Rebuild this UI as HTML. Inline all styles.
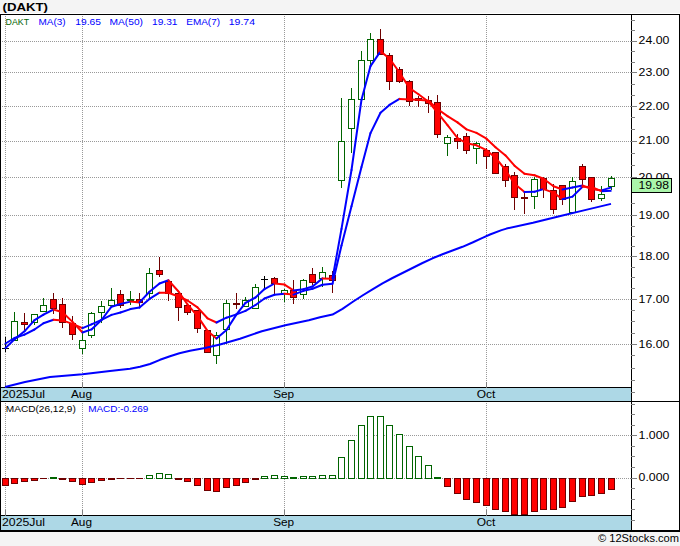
<!DOCTYPE html>
<html><head><meta charset="utf-8"><title>(DAKT)</title>
<style>html,body{margin:0;padding:0;background:#f4f4f4;}body{width:680px;height:546px;overflow:hidden;font-family:"Liberation Sans", sans-serif;}svg{display:block;}text{font-family:"Liberation Sans", sans-serif;}</style>
</head><body>
<svg width="680" height="546" viewBox="0 0 680 546">
<rect x="0" y="0" width="680" height="546" fill="#f4f4f4"/>
<rect x="0" y="13" width="680" height="1" fill="#fff" shape-rendering="crispEdges"/>
<text x="2.5" y="11" font-size="11.3" font-weight="bold" fill="#000" textLength="45.5" lengthAdjust="spacingAndGlyphs">(DAKT)</text>
<g shape-rendering="crispEdges">
<rect x="0" y="14" width="680" height="518" fill="#000"/>
<rect x="1" y="15" width="630" height="372" fill="#fff"/>
<rect x="632" y="15" width="47" height="386" fill="#fff"/>
<rect x="1" y="388" width="630" height="13" fill="#add8e6"/>
<rect x="1" y="402" width="630" height="113" fill="#fff"/>
<rect x="632" y="402" width="47" height="128" fill="#fff"/>
<rect x="1" y="516" width="630" height="14" fill="#add8e6"/>
<line x1="2" x2="631" y1="344.5" y2="344.5" stroke="#999" stroke-width="1" stroke-dasharray="1,1"/>
<line x1="2" x2="631" y1="299.5" y2="299.5" stroke="#999" stroke-width="1" stroke-dasharray="1,1"/>
<line x1="2" x2="631" y1="256.5" y2="256.5" stroke="#999" stroke-width="1" stroke-dasharray="1,1"/>
<line x1="2" x2="631" y1="215.5" y2="215.5" stroke="#999" stroke-width="1" stroke-dasharray="1,1"/>
<line x1="2" x2="631" y1="177.5" y2="177.5" stroke="#999" stroke-width="1" stroke-dasharray="1,1"/>
<line x1="2" x2="631" y1="141.5" y2="141.5" stroke="#999" stroke-width="1" stroke-dasharray="1,1"/>
<line x1="2" x2="631" y1="106.5" y2="106.5" stroke="#999" stroke-width="1" stroke-dasharray="1,1"/>
<line x1="2" x2="631" y1="72.5" y2="72.5" stroke="#999" stroke-width="1" stroke-dasharray="1,1"/>
<line x1="2" x2="631" y1="41.5" y2="41.5" stroke="#999" stroke-width="1" stroke-dasharray="1,1"/>
<line x1="5.5" x2="5.5" y1="16" y2="382" stroke="#999" stroke-width="1" stroke-dasharray="1,1"/>
<line x1="5.5" x2="5.5" y1="382" y2="388" stroke="#808080" stroke-width="1"/>
<line x1="5.5" x2="5.5" y1="403" y2="510" stroke="#999" stroke-width="1" stroke-dasharray="1,1"/>
<line x1="5.5" x2="5.5" y1="510" y2="516" stroke="#808080" stroke-width="1"/>
<line x1="82.5" x2="82.5" y1="16" y2="382" stroke="#999" stroke-width="1" stroke-dasharray="1,1"/>
<line x1="82.5" x2="82.5" y1="382" y2="388" stroke="#808080" stroke-width="1"/>
<line x1="82.5" x2="82.5" y1="403" y2="510" stroke="#999" stroke-width="1" stroke-dasharray="1,1"/>
<line x1="82.5" x2="82.5" y1="510" y2="516" stroke="#808080" stroke-width="1"/>
<line x1="284.5" x2="284.5" y1="16" y2="382" stroke="#999" stroke-width="1" stroke-dasharray="1,1"/>
<line x1="284.5" x2="284.5" y1="382" y2="388" stroke="#808080" stroke-width="1"/>
<line x1="284.5" x2="284.5" y1="403" y2="510" stroke="#999" stroke-width="1" stroke-dasharray="1,1"/>
<line x1="284.5" x2="284.5" y1="510" y2="516" stroke="#808080" stroke-width="1"/>
<line x1="486.5" x2="486.5" y1="16" y2="382" stroke="#999" stroke-width="1" stroke-dasharray="1,1"/>
<line x1="486.5" x2="486.5" y1="382" y2="388" stroke="#808080" stroke-width="1"/>
<line x1="486.5" x2="486.5" y1="403" y2="510" stroke="#999" stroke-width="1" stroke-dasharray="1,1"/>
<line x1="486.5" x2="486.5" y1="510" y2="516" stroke="#808080" stroke-width="1"/>
<line x1="2" x2="631" y1="435.5" y2="435.5" stroke="#999" stroke-width="1" stroke-dasharray="1,1"/>
<line x1="2" x2="631" y1="478.5" y2="478.5" stroke="#999" stroke-width="1" stroke-dasharray="1,1"/>
<line x1="631" x2="635" y1="20.5" y2="20.5" stroke="#808080" stroke-width="1"/>
<line x1="631" x2="635" y1="30.5" y2="30.5" stroke="#808080" stroke-width="1"/>
<line x1="631" x2="635" y1="51.5" y2="51.5" stroke="#808080" stroke-width="1"/>
<line x1="631" x2="635" y1="62.5" y2="62.5" stroke="#808080" stroke-width="1"/>
<line x1="631" x2="635" y1="84.5" y2="84.5" stroke="#808080" stroke-width="1"/>
<line x1="631" x2="635" y1="95.5" y2="95.5" stroke="#808080" stroke-width="1"/>
<line x1="631" x2="635" y1="117.5" y2="117.5" stroke="#808080" stroke-width="1"/>
<line x1="631" x2="635" y1="129.5" y2="129.5" stroke="#808080" stroke-width="1"/>
<line x1="631" x2="635" y1="153.5" y2="153.5" stroke="#808080" stroke-width="1"/>
<line x1="631" x2="635" y1="165.5" y2="165.5" stroke="#808080" stroke-width="1"/>
<line x1="631" x2="635" y1="190.5" y2="190.5" stroke="#808080" stroke-width="1"/>
<line x1="631" x2="635" y1="203.5" y2="203.5" stroke="#808080" stroke-width="1"/>
<line x1="631" x2="635" y1="226.5" y2="226.5" stroke="#808080" stroke-width="1"/>
<line x1="631" x2="635" y1="236.5" y2="236.5" stroke="#808080" stroke-width="1"/>
<line x1="631" x2="635" y1="246.5" y2="246.5" stroke="#808080" stroke-width="1"/>
<line x1="631" x2="635" y1="267.5" y2="267.5" stroke="#808080" stroke-width="1"/>
<line x1="631" x2="635" y1="277.5" y2="277.5" stroke="#808080" stroke-width="1"/>
<line x1="631" x2="635" y1="288.5" y2="288.5" stroke="#808080" stroke-width="1"/>
<line x1="631" x2="635" y1="310.5" y2="310.5" stroke="#808080" stroke-width="1"/>
<line x1="631" x2="635" y1="321.5" y2="321.5" stroke="#808080" stroke-width="1"/>
<line x1="631" x2="635" y1="333.5" y2="333.5" stroke="#808080" stroke-width="1"/>
<line x1="631" x2="635" y1="355.5" y2="355.5" stroke="#808080" stroke-width="1"/>
<line x1="631" x2="635" y1="368.5" y2="368.5" stroke="#808080" stroke-width="1"/>
<line x1="631" x2="635" y1="380.5" y2="380.5" stroke="#808080" stroke-width="1"/>
<line x1="631" x2="635" y1="392.5" y2="392.5" stroke="#808080" stroke-width="1"/>
<line x1="630" x2="637" y1="41.5" y2="41.5" stroke="#808080" stroke-width="1"/>
<line x1="630" x2="637" y1="72.5" y2="72.5" stroke="#808080" stroke-width="1"/>
<line x1="630" x2="637" y1="106.5" y2="106.5" stroke="#808080" stroke-width="1"/>
<line x1="630" x2="637" y1="141.5" y2="141.5" stroke="#808080" stroke-width="1"/>
<line x1="630" x2="637" y1="177.5" y2="177.5" stroke="#808080" stroke-width="1"/>
<line x1="630" x2="637" y1="215.5" y2="215.5" stroke="#808080" stroke-width="1"/>
<line x1="630" x2="637" y1="256.5" y2="256.5" stroke="#808080" stroke-width="1"/>
<line x1="630" x2="637" y1="299.5" y2="299.5" stroke="#808080" stroke-width="1"/>
<line x1="630" x2="637" y1="344.5" y2="344.5" stroke="#808080" stroke-width="1"/>
<line x1="631" x2="635" y1="404.5" y2="404.5" stroke="#808080" stroke-width="1"/>
<line x1="631" x2="635" y1="414.5" y2="414.5" stroke="#808080" stroke-width="1"/>
<line x1="631" x2="635" y1="425.5" y2="425.5" stroke="#808080" stroke-width="1"/>
<line x1="630" x2="637" y1="435.5" y2="435.5" stroke="#808080" stroke-width="1"/>
<line x1="631" x2="635" y1="446.5" y2="446.5" stroke="#808080" stroke-width="1"/>
<line x1="631" x2="635" y1="456.5" y2="456.5" stroke="#808080" stroke-width="1"/>
<line x1="631" x2="635" y1="467.5" y2="467.5" stroke="#808080" stroke-width="1"/>
<line x1="630" x2="637" y1="478.5" y2="478.5" stroke="#808080" stroke-width="1"/>
<line x1="631" x2="635" y1="488.5" y2="488.5" stroke="#808080" stroke-width="1"/>
<line x1="631" x2="635" y1="499.5" y2="499.5" stroke="#808080" stroke-width="1"/>
<line x1="631" x2="635" y1="509.5" y2="509.5" stroke="#808080" stroke-width="1"/>
<line x1="631" x2="635" y1="520.5" y2="520.5" stroke="#808080" stroke-width="1"/>
</g>
<text x="638.6" y="348.0" font-size="11.2" fill="#000" textLength="30.8" lengthAdjust="spacingAndGlyphs">16.00</text>
<text x="638.6" y="303.0" font-size="11.2" fill="#000" textLength="30.8" lengthAdjust="spacingAndGlyphs">17.00</text>
<text x="638.6" y="260.0" font-size="11.2" fill="#000" textLength="30.8" lengthAdjust="spacingAndGlyphs">18.00</text>
<text x="638.6" y="219.0" font-size="11.2" fill="#000" textLength="30.8" lengthAdjust="spacingAndGlyphs">19.00</text>
<text x="638.6" y="181.0" font-size="11.2" fill="#000" textLength="30.8" lengthAdjust="spacingAndGlyphs">20.00</text>
<text x="638.6" y="144.0" font-size="11.2" fill="#000" textLength="30.8" lengthAdjust="spacingAndGlyphs">21.00</text>
<text x="638.6" y="110.0" font-size="11.2" fill="#000" textLength="30.8" lengthAdjust="spacingAndGlyphs">22.00</text>
<text x="638.6" y="76.0" font-size="11.2" fill="#000" textLength="30.8" lengthAdjust="spacingAndGlyphs">23.00</text>
<text x="638.6" y="44.0" font-size="11.2" fill="#000" textLength="30.8" lengthAdjust="spacingAndGlyphs">24.00</text>
<text x="638.6" y="439" font-size="11.2" fill="#000" textLength="30.8" lengthAdjust="spacingAndGlyphs">1.000</text>
<text x="638.6" y="481" font-size="11.2" fill="#000" textLength="30.8" lengthAdjust="spacingAndGlyphs">0.000</text>
<text x="2" y="397.7" font-size="11.2" fill="#000" textLength="43" lengthAdjust="spacingAndGlyphs">2025Jul</text>
<text x="71" y="397.7" font-size="11.2" fill="#000" textLength="21" lengthAdjust="spacingAndGlyphs">Aug</text>
<text x="273.2" y="397.7" font-size="11.2" fill="#000" textLength="21" lengthAdjust="spacingAndGlyphs">Sep</text>
<text x="476.7" y="397.7" font-size="11.2" fill="#000" textLength="18.6" lengthAdjust="spacingAndGlyphs">Oct</text>
<text x="2" y="525.7" font-size="11.2" fill="#000" textLength="43" lengthAdjust="spacingAndGlyphs">2025Jul</text>
<text x="71" y="525.7" font-size="11.2" fill="#000" textLength="21" lengthAdjust="spacingAndGlyphs">Aug</text>
<text x="273.2" y="525.7" font-size="11.2" fill="#000" textLength="21" lengthAdjust="spacingAndGlyphs">Sep</text>
<text x="476.7" y="525.7" font-size="11.2" fill="#000" textLength="18.6" lengthAdjust="spacingAndGlyphs">Oct</text>
<text x="5.6" y="25.0" font-size="9.7" fill="#006400" textLength="23.4" lengthAdjust="spacingAndGlyphs">DAKT</text>
<text x="38.5" y="25.0" font-size="9.7" fill="#0000ff" textLength="27.1" lengthAdjust="spacingAndGlyphs">MA(3)</text>
<text x="75.3" y="25.0" font-size="9.7" fill="#0000ff" textLength="25.7" lengthAdjust="spacingAndGlyphs">19.65</text>
<text x="109.5" y="25.0" font-size="9.7" fill="#0000ff" textLength="33.5" lengthAdjust="spacingAndGlyphs">MA(50)</text>
<text x="152.0" y="25.0" font-size="9.7" fill="#0000ff" textLength="25.5" lengthAdjust="spacingAndGlyphs">19.31</text>
<text x="186.3" y="25.0" font-size="9.7" fill="#0000ff" textLength="33.7" lengthAdjust="spacingAndGlyphs">EMA(7)</text>
<text x="228.8" y="25.0" font-size="9.7" fill="#0000ff" textLength="26.2" lengthAdjust="spacingAndGlyphs">19.74</text>
<text x="5.8" y="412.0" font-size="9.7" fill="#000" textLength="70.0" lengthAdjust="spacingAndGlyphs">MACD(26,12,9)</text>
<text x="88.2" y="412.0" font-size="9.7" fill="#0000ff" textLength="60.1" lengthAdjust="spacingAndGlyphs">MACD:-0.269</text>
<g shape-rendering="crispEdges">
<line x1="5.5" x2="5.5" y1="337" y2="352" stroke="#000" stroke-width="1"/>
<line x1="2" x2="9" y1="348.5" y2="348.5" stroke="#000" stroke-width="1"/>
<line x1="14.5" x2="14.5" y1="312" y2="341" stroke="#006400" stroke-width="1"/>
<rect x="11.5" y="321.5" width="6" height="19" fill="#fff" stroke="#006400" stroke-width="1"/>
<line x1="24.5" x2="24.5" y1="313" y2="330" stroke="#6e0000" stroke-width="1"/>
<rect x="21.5" y="322.5" width="6" height="2" fill="#ff0000" stroke="#6e0000" stroke-width="1"/>
<line x1="34.5" x2="34.5" y1="314" y2="325" stroke="#006400" stroke-width="1"/>
<rect x="31.5" y="314.5" width="6" height="8" fill="#fff" stroke="#006400" stroke-width="1"/>
<line x1="43.5" x2="43.5" y1="298" y2="312" stroke="#006400" stroke-width="1"/>
<rect x="40.5" y="305.5" width="6" height="6" fill="#fff" stroke="#006400" stroke-width="1"/>
<line x1="53.5" x2="53.5" y1="293" y2="314" stroke="#6e0000" stroke-width="1"/>
<rect x="50.5" y="299.5" width="6" height="9" fill="#ff0000" stroke="#6e0000" stroke-width="1"/>
<line x1="62.5" x2="62.5" y1="298" y2="328" stroke="#6e0000" stroke-width="1"/>
<rect x="59.5" y="304.5" width="6" height="18" fill="#ff0000" stroke="#6e0000" stroke-width="1"/>
<line x1="72.5" x2="72.5" y1="316" y2="340" stroke="#6e0000" stroke-width="1"/>
<rect x="69.5" y="323.5" width="6" height="11" fill="#ff0000" stroke="#6e0000" stroke-width="1"/>
<line x1="82.5" x2="82.5" y1="333" y2="354" stroke="#006400" stroke-width="1"/>
<rect x="79.5" y="340.5" width="6" height="8" fill="#fff" stroke="#006400" stroke-width="1"/>
<line x1="91.5" x2="91.5" y1="312" y2="338" stroke="#006400" stroke-width="1"/>
<rect x="88.5" y="313.5" width="6" height="22" fill="#fff" stroke="#006400" stroke-width="1"/>
<line x1="101.5" x2="101.5" y1="301" y2="323" stroke="#006400" stroke-width="1"/>
<rect x="98.5" y="306.5" width="6" height="6" fill="#fff" stroke="#006400" stroke-width="1"/>
<line x1="111.5" x2="111.5" y1="288" y2="306" stroke="#006400" stroke-width="1"/>
<rect x="108.5" y="300.5" width="6" height="5" fill="#fff" stroke="#006400" stroke-width="1"/>
<line x1="120.5" x2="120.5" y1="290" y2="308" stroke="#6e0000" stroke-width="1"/>
<rect x="117.5" y="294.5" width="6" height="11" fill="#ff0000" stroke="#6e0000" stroke-width="1"/>
<line x1="130.5" x2="130.5" y1="291" y2="305" stroke="#006400" stroke-width="1"/>
<rect x="127" y="299" width="7" height="2" fill="#006400"/>
<line x1="139.5" x2="139.5" y1="293" y2="307" stroke="#6e0000" stroke-width="1"/>
<rect x="136.5" y="299.5" width="6" height="3" fill="#ff0000" stroke="#6e0000" stroke-width="1"/>
<line x1="149.5" x2="149.5" y1="268" y2="298" stroke="#006400" stroke-width="1"/>
<rect x="146.5" y="273.5" width="6" height="20" fill="#fff" stroke="#006400" stroke-width="1"/>
<line x1="159.5" x2="159.5" y1="257" y2="277" stroke="#6e0000" stroke-width="1"/>
<rect x="156.5" y="270.5" width="6" height="4" fill="#ff0000" stroke="#6e0000" stroke-width="1"/>
<line x1="168.5" x2="168.5" y1="281" y2="301" stroke="#6e0000" stroke-width="1"/>
<rect x="165.5" y="281.5" width="6" height="12" fill="#ff0000" stroke="#6e0000" stroke-width="1"/>
<line x1="178.5" x2="178.5" y1="293" y2="321" stroke="#6e0000" stroke-width="1"/>
<rect x="175.5" y="293.5" width="6" height="14" fill="#ff0000" stroke="#6e0000" stroke-width="1"/>
<line x1="187.5" x2="187.5" y1="305" y2="315" stroke="#6e0000" stroke-width="1"/>
<rect x="184.5" y="305.5" width="6" height="7" fill="#ff0000" stroke="#6e0000" stroke-width="1"/>
<line x1="197.5" x2="197.5" y1="310" y2="333" stroke="#6e0000" stroke-width="1"/>
<rect x="194.5" y="310.5" width="6" height="18" fill="#ff0000" stroke="#6e0000" stroke-width="1"/>
<line x1="207.5" x2="207.5" y1="330" y2="353" stroke="#6e0000" stroke-width="1"/>
<rect x="204.5" y="330.5" width="6" height="22" fill="#ff0000" stroke="#6e0000" stroke-width="1"/>
<line x1="216.5" x2="216.5" y1="332" y2="364" stroke="#006400" stroke-width="1"/>
<rect x="213.5" y="335.5" width="6" height="20" fill="#fff" stroke="#006400" stroke-width="1"/>
<line x1="226.5" x2="226.5" y1="300" y2="344" stroke="#006400" stroke-width="1"/>
<rect x="223.5" y="303.5" width="6" height="26" fill="#fff" stroke="#006400" stroke-width="1"/>
<line x1="236.5" x2="236.5" y1="293" y2="309" stroke="#6e0000" stroke-width="1"/>
<rect x="233" y="303" width="7" height="2" fill="#6e0000"/>
<line x1="245.5" x2="245.5" y1="297" y2="307" stroke="#006400" stroke-width="1"/>
<rect x="242.5" y="300.5" width="6" height="6" fill="#fff" stroke="#006400" stroke-width="1"/>
<line x1="255.5" x2="255.5" y1="284" y2="309" stroke="#006400" stroke-width="1"/>
<rect x="252.5" y="287.5" width="6" height="21" fill="#fff" stroke="#006400" stroke-width="1"/>
<line x1="264.5" x2="264.5" y1="276" y2="288" stroke="#000" stroke-width="1"/>
<line x1="261" x2="268" y1="279.5" y2="279.5" stroke="#000" stroke-width="1"/>
<line x1="274.5" x2="274.5" y1="277" y2="294" stroke="#6e0000" stroke-width="1"/>
<rect x="271.5" y="278.5" width="6" height="5" fill="#ff0000" stroke="#6e0000" stroke-width="1"/>
<line x1="284.5" x2="284.5" y1="289" y2="302" stroke="#006400" stroke-width="1"/>
<rect x="281.5" y="290.5" width="6" height="3" fill="#fff" stroke="#006400" stroke-width="1"/>
<line x1="293.5" x2="293.5" y1="280" y2="304" stroke="#6e0000" stroke-width="1"/>
<rect x="290.5" y="290.5" width="6" height="7" fill="#ff0000" stroke="#6e0000" stroke-width="1"/>
<line x1="303.5" x2="303.5" y1="279" y2="299" stroke="#006400" stroke-width="1"/>
<rect x="300.5" y="280.5" width="6" height="14" fill="#fff" stroke="#006400" stroke-width="1"/>
<line x1="312.5" x2="312.5" y1="268" y2="285" stroke="#6e0000" stroke-width="1"/>
<rect x="309.5" y="274.5" width="6" height="8" fill="#ff0000" stroke="#6e0000" stroke-width="1"/>
<line x1="322.5" x2="322.5" y1="267" y2="287" stroke="#006400" stroke-width="1"/>
<rect x="319.5" y="272.5" width="6" height="6" fill="#fff" stroke="#006400" stroke-width="1"/>
<line x1="332.5" x2="332.5" y1="271" y2="293" stroke="#6e0000" stroke-width="1"/>
<rect x="329.5" y="275.5" width="6" height="5" fill="#ff0000" stroke="#6e0000" stroke-width="1"/>
<line x1="341.5" x2="341.5" y1="98" y2="188" stroke="#006400" stroke-width="1"/>
<rect x="338.5" y="141.5" width="6" height="39" fill="#fff" stroke="#006400" stroke-width="1"/>
<line x1="351.5" x2="351.5" y1="88" y2="153" stroke="#006400" stroke-width="1"/>
<rect x="348.5" y="99.5" width="6" height="29" fill="#fff" stroke="#006400" stroke-width="1"/>
<line x1="361.5" x2="361.5" y1="51" y2="100" stroke="#006400" stroke-width="1"/>
<rect x="358.5" y="60.5" width="6" height="39" fill="#fff" stroke="#006400" stroke-width="1"/>
<line x1="370.5" x2="370.5" y1="33" y2="65" stroke="#006400" stroke-width="1"/>
<rect x="367.5" y="39.5" width="6" height="21" fill="#fff" stroke="#006400" stroke-width="1"/>
<line x1="380.5" x2="380.5" y1="29" y2="55" stroke="#6e0000" stroke-width="1"/>
<rect x="377.5" y="39.5" width="6" height="15" fill="#ff0000" stroke="#6e0000" stroke-width="1"/>
<line x1="389.5" x2="389.5" y1="53" y2="90" stroke="#6e0000" stroke-width="1"/>
<rect x="386.5" y="55.5" width="6" height="26" fill="#ff0000" stroke="#6e0000" stroke-width="1"/>
<line x1="399.5" x2="399.5" y1="67" y2="83" stroke="#6e0000" stroke-width="1"/>
<rect x="396.5" y="69.5" width="6" height="12" fill="#ff0000" stroke="#6e0000" stroke-width="1"/>
<line x1="409.5" x2="409.5" y1="80" y2="106" stroke="#6e0000" stroke-width="1"/>
<rect x="406.5" y="81.5" width="6" height="20" fill="#ff0000" stroke="#6e0000" stroke-width="1"/>
<line x1="418.5" x2="418.5" y1="96" y2="107" stroke="#6e0000" stroke-width="1"/>
<rect x="415.5" y="98.5" width="6" height="2" fill="#ff0000" stroke="#6e0000" stroke-width="1"/>
<line x1="428.5" x2="428.5" y1="96" y2="113" stroke="#6e0000" stroke-width="1"/>
<rect x="425.5" y="100.5" width="6" height="3" fill="#ff0000" stroke="#6e0000" stroke-width="1"/>
<line x1="437.5" x2="437.5" y1="95" y2="138" stroke="#6e0000" stroke-width="1"/>
<rect x="434.5" y="102.5" width="6" height="32" fill="#ff0000" stroke="#6e0000" stroke-width="1"/>
<line x1="447.5" x2="447.5" y1="135" y2="156" stroke="#006400" stroke-width="1"/>
<rect x="444.5" y="137.5" width="6" height="6" fill="#fff" stroke="#006400" stroke-width="1"/>
<line x1="457.5" x2="457.5" y1="134" y2="149" stroke="#6e0000" stroke-width="1"/>
<rect x="454.5" y="138.5" width="6" height="3" fill="#ff0000" stroke="#6e0000" stroke-width="1"/>
<line x1="466.5" x2="466.5" y1="133" y2="154" stroke="#6e0000" stroke-width="1"/>
<rect x="463.5" y="136.5" width="6" height="14" fill="#ff0000" stroke="#6e0000" stroke-width="1"/>
<line x1="476.5" x2="476.5" y1="142" y2="164" stroke="#006400" stroke-width="1"/>
<rect x="473.5" y="143.5" width="6" height="5" fill="#fff" stroke="#006400" stroke-width="1"/>
<line x1="486.5" x2="486.5" y1="148" y2="169" stroke="#6e0000" stroke-width="1"/>
<rect x="483.5" y="150.5" width="6" height="6" fill="#ff0000" stroke="#6e0000" stroke-width="1"/>
<line x1="495.5" x2="495.5" y1="152" y2="174" stroke="#6e0000" stroke-width="1"/>
<rect x="492.5" y="152.5" width="6" height="21" fill="#ff0000" stroke="#6e0000" stroke-width="1"/>
<line x1="505.5" x2="505.5" y1="164" y2="187" stroke="#6e0000" stroke-width="1"/>
<rect x="502.5" y="166.5" width="6" height="14" fill="#ff0000" stroke="#6e0000" stroke-width="1"/>
<line x1="514.5" x2="514.5" y1="172" y2="210" stroke="#6e0000" stroke-width="1"/>
<rect x="511.5" y="175.5" width="6" height="22" fill="#ff0000" stroke="#6e0000" stroke-width="1"/>
<line x1="524.5" x2="524.5" y1="192" y2="214" stroke="#6e0000" stroke-width="1"/>
<rect x="521" y="197" width="7" height="2" fill="#6e0000"/>
<line x1="534.5" x2="534.5" y1="177" y2="209" stroke="#006400" stroke-width="1"/>
<rect x="531.5" y="179.5" width="6" height="17" fill="#fff" stroke="#006400" stroke-width="1"/>
<line x1="543.5" x2="543.5" y1="177" y2="198" stroke="#6e0000" stroke-width="1"/>
<rect x="540.5" y="178.5" width="6" height="11" fill="#ff0000" stroke="#6e0000" stroke-width="1"/>
<line x1="553.5" x2="553.5" y1="184" y2="214" stroke="#6e0000" stroke-width="1"/>
<rect x="550.5" y="190.5" width="6" height="19" fill="#ff0000" stroke="#6e0000" stroke-width="1"/>
<line x1="562.5" x2="562.5" y1="185" y2="205" stroke="#6e0000" stroke-width="1"/>
<rect x="559.5" y="185.5" width="6" height="14" fill="#ff0000" stroke="#6e0000" stroke-width="1"/>
<line x1="572.5" x2="572.5" y1="177" y2="213" stroke="#006400" stroke-width="1"/>
<rect x="569.5" y="181.5" width="6" height="31" fill="#fff" stroke="#006400" stroke-width="1"/>
<line x1="582.5" x2="582.5" y1="164" y2="185" stroke="#6e0000" stroke-width="1"/>
<rect x="579.5" y="166.5" width="6" height="13" fill="#ff0000" stroke="#6e0000" stroke-width="1"/>
<line x1="591.5" x2="591.5" y1="177" y2="202" stroke="#6e0000" stroke-width="1"/>
<rect x="588.5" y="177.5" width="6" height="22" fill="#ff0000" stroke="#6e0000" stroke-width="1"/>
<line x1="601.5" x2="601.5" y1="186" y2="201" stroke="#006400" stroke-width="1"/>
<rect x="598.5" y="194.5" width="6" height="4" fill="#fff" stroke="#006400" stroke-width="1"/>
<line x1="611.5" x2="611.5" y1="176" y2="190" stroke="#006400" stroke-width="1"/>
<rect x="608.5" y="178.5" width="6" height="8" fill="#fff" stroke="#006400" stroke-width="1"/>
</g>
<g shape-rendering="crispEdges">
<rect x="2.5" y="478.5" width="6" height="7" fill="#ff0000" stroke="#6e0000" stroke-width="1"/>
<rect x="11.5" y="478.5" width="6" height="5" fill="#ff0000" stroke="#6e0000" stroke-width="1"/>
<rect x="21.5" y="478.5" width="6" height="3" fill="#ff0000" stroke="#6e0000" stroke-width="1"/>
<rect x="31.5" y="478.5" width="6" height="2" fill="#ff0000" stroke="#6e0000" stroke-width="1"/>
<rect x="40" y="478" width="7" height="1" fill="#6e0000"/>
<rect x="50" y="477" width="7" height="2" fill="#006400"/>
<rect x="59" y="478" width="7" height="2" fill="#6e0000"/>
<rect x="69.5" y="478.5" width="6" height="3" fill="#ff0000" stroke="#6e0000" stroke-width="1"/>
<rect x="79.5" y="478.5" width="6" height="6" fill="#ff0000" stroke="#6e0000" stroke-width="1"/>
<rect x="88.5" y="478.5" width="6" height="4" fill="#ff0000" stroke="#6e0000" stroke-width="1"/>
<rect x="98.5" y="478.5" width="6" height="2" fill="#ff0000" stroke="#6e0000" stroke-width="1"/>
<rect x="108" y="478" width="7" height="2" fill="#6e0000"/>
<rect x="117" y="478" width="7" height="1" fill="#6e0000"/>
<rect x="127" y="478" width="7" height="1" fill="#6e0000"/>
<rect x="136" y="478" width="7" height="1" fill="#6e0000"/>
<rect x="146.5" y="475.5" width="6" height="3" fill="#fff" stroke="#006400" stroke-width="1"/>
<rect x="156.5" y="473.5" width="6" height="5" fill="#fff" stroke="#006400" stroke-width="1"/>
<rect x="165.5" y="474.5" width="6" height="4" fill="#fff" stroke="#006400" stroke-width="1"/>
<rect x="175" y="478" width="7" height="2" fill="#6e0000"/>
<rect x="184.5" y="478.5" width="6" height="3" fill="#ff0000" stroke="#6e0000" stroke-width="1"/>
<rect x="194.5" y="478.5" width="6" height="7" fill="#ff0000" stroke="#6e0000" stroke-width="1"/>
<rect x="204.5" y="478.5" width="6" height="12" fill="#ff0000" stroke="#6e0000" stroke-width="1"/>
<rect x="213.5" y="478.5" width="6" height="13" fill="#ff0000" stroke="#6e0000" stroke-width="1"/>
<rect x="223.5" y="478.5" width="6" height="9" fill="#ff0000" stroke="#6e0000" stroke-width="1"/>
<rect x="233.5" y="478.5" width="6" height="7" fill="#ff0000" stroke="#6e0000" stroke-width="1"/>
<rect x="242.5" y="478.5" width="6" height="4" fill="#ff0000" stroke="#6e0000" stroke-width="1"/>
<rect x="252" y="478" width="7" height="2" fill="#6e0000"/>
<rect x="261.5" y="476.5" width="6" height="2" fill="#fff" stroke="#006400" stroke-width="1"/>
<rect x="271.5" y="475.5" width="6" height="3" fill="#fff" stroke="#006400" stroke-width="1"/>
<rect x="281.5" y="476.5" width="6" height="2" fill="#fff" stroke="#006400" stroke-width="1"/>
<rect x="290" y="477" width="7" height="2" fill="#006400"/>
<rect x="300.5" y="476.5" width="6" height="2" fill="#fff" stroke="#006400" stroke-width="1"/>
<rect x="309.5" y="476.5" width="6" height="2" fill="#fff" stroke="#006400" stroke-width="1"/>
<rect x="319.5" y="475.5" width="6" height="3" fill="#fff" stroke="#006400" stroke-width="1"/>
<rect x="329.5" y="475.5" width="6" height="3" fill="#fff" stroke="#006400" stroke-width="1"/>
<rect x="338.5" y="457.5" width="6" height="21" fill="#fff" stroke="#006400" stroke-width="1"/>
<rect x="348.5" y="440.5" width="6" height="38" fill="#fff" stroke="#006400" stroke-width="1"/>
<rect x="358.5" y="425.5" width="6" height="53" fill="#fff" stroke="#006400" stroke-width="1"/>
<rect x="367.5" y="416.5" width="6" height="62" fill="#fff" stroke="#006400" stroke-width="1"/>
<rect x="377.5" y="416.5" width="6" height="62" fill="#fff" stroke="#006400" stroke-width="1"/>
<rect x="386.5" y="425.5" width="6" height="53" fill="#fff" stroke="#006400" stroke-width="1"/>
<rect x="396.5" y="434.5" width="6" height="44" fill="#fff" stroke="#006400" stroke-width="1"/>
<rect x="406.5" y="446.5" width="6" height="32" fill="#fff" stroke="#006400" stroke-width="1"/>
<rect x="415.5" y="456.5" width="6" height="22" fill="#fff" stroke="#006400" stroke-width="1"/>
<rect x="425.5" y="465.5" width="6" height="13" fill="#fff" stroke="#006400" stroke-width="1"/>
<rect x="434" y="477" width="7" height="2" fill="#006400"/>
<rect x="444.5" y="478.5" width="6" height="8" fill="#ff0000" stroke="#6e0000" stroke-width="1"/>
<rect x="454.5" y="478.5" width="6" height="15" fill="#ff0000" stroke="#6e0000" stroke-width="1"/>
<rect x="463.5" y="478.5" width="6" height="21" fill="#ff0000" stroke="#6e0000" stroke-width="1"/>
<rect x="473.5" y="478.5" width="6" height="24" fill="#ff0000" stroke="#6e0000" stroke-width="1"/>
<rect x="483.5" y="478.5" width="6" height="27" fill="#ff0000" stroke="#6e0000" stroke-width="1"/>
<rect x="492.5" y="478.5" width="6" height="31" fill="#ff0000" stroke="#6e0000" stroke-width="1"/>
<rect x="502.5" y="478.5" width="6" height="33" fill="#ff0000" stroke="#6e0000" stroke-width="1"/>
<rect x="511.5" y="478.5" width="6" height="36" fill="#ff0000" stroke="#6e0000" stroke-width="1"/>
<rect x="521.5" y="478.5" width="6" height="36" fill="#ff0000" stroke="#6e0000" stroke-width="1"/>
<rect x="531.5" y="478.5" width="6" height="33" fill="#ff0000" stroke="#6e0000" stroke-width="1"/>
<rect x="540.5" y="478.5" width="6" height="31" fill="#ff0000" stroke="#6e0000" stroke-width="1"/>
<rect x="550.5" y="478.5" width="6" height="31" fill="#ff0000" stroke="#6e0000" stroke-width="1"/>
<rect x="559.5" y="478.5" width="6" height="29" fill="#ff0000" stroke="#6e0000" stroke-width="1"/>
<rect x="569.5" y="478.5" width="6" height="23" fill="#ff0000" stroke="#6e0000" stroke-width="1"/>
<rect x="579.5" y="478.5" width="6" height="18" fill="#ff0000" stroke="#6e0000" stroke-width="1"/>
<rect x="588.5" y="478.5" width="6" height="17" fill="#ff0000" stroke="#6e0000" stroke-width="1"/>
<rect x="598.5" y="478.5" width="6" height="15" fill="#ff0000" stroke="#6e0000" stroke-width="1"/>
<rect x="608.5" y="478.5" width="6" height="11" fill="#ff0000" stroke="#6e0000" stroke-width="1"/>
</g>
<g fill="none" stroke-width="2" stroke-linecap="round" stroke-linejoin="round">
<polyline stroke="#0000ff" stroke-linecap="butt" points="5.0,387.0 25.0,382.0 50.0,377.0 82.5,374.2 110.0,370.9 130.0,368.7 140.0,366.8 150.0,364.0 160.0,359.8 170.0,356.2 179.4,353.3 190.0,350.8 205.0,348.0 220.0,344.5 240.0,338.7 261.8,331.2 285.3,325.3 308.8,320.3 320.0,317.3 332.5,314.6 342.5,308.8 352.5,302.0 362.5,295.5 372.5,289.3 382.5,283.3 392.5,278.0 402.5,273.0 412.5,268.0 422.5,263.0 432.5,258.3 442.5,254.3 452.5,250.5 462.5,246.8 472.5,242.5 482.5,237.8 490.0,234.5 501.5,230.1 506.5,228.6 533.0,222.8 559.4,216.3 585.9,209.9 611.0,203.9"/>
<line x1="5.5" y1="343.5" x2="14.5" y2="338.0" stroke="#0000ff"/>
<line x1="14.5" y1="338.0" x2="24.5" y2="334.6" stroke="#0000ff"/>
<line x1="24.5" y1="334.6" x2="34.5" y2="329.5" stroke="#0000ff"/>
<line x1="34.5" y1="329.5" x2="43.5" y2="323.3" stroke="#0000ff"/>
<line x1="43.5" y1="323.3" x2="53.5" y2="319.7" stroke="#0000ff"/>
<line x1="53.5" y1="319.7" x2="62.5" y2="320.4" stroke="#ff0000"/>
<line x1="62.5" y1="320.4" x2="72.5" y2="323.9" stroke="#ff0000"/>
<line x1="72.5" y1="323.9" x2="82.5" y2="328.1" stroke="#ff0000"/>
<line x1="82.5" y1="328.1" x2="91.5" y2="324.3" stroke="#0000ff"/>
<line x1="91.5" y1="324.3" x2="101.5" y2="319.8" stroke="#0000ff"/>
<line x1="101.5" y1="319.8" x2="111.5" y2="314.9" stroke="#0000ff"/>
<line x1="111.5" y1="314.9" x2="120.5" y2="312.5" stroke="#0000ff"/>
<line x1="120.5" y1="312.5" x2="130.5" y2="309.1" stroke="#0000ff"/>
<line x1="130.5" y1="309.1" x2="139.5" y2="307.6" stroke="#0000ff"/>
<line x1="139.5" y1="307.6" x2="149.5" y2="298.9" stroke="#0000ff"/>
<line x1="149.5" y1="298.9" x2="159.5" y2="292.7" stroke="#0000ff"/>
<line x1="159.5" y1="292.7" x2="168.5" y2="292.8" stroke="#ff0000"/>
<line x1="168.5" y1="292.8" x2="178.5" y2="296.5" stroke="#ff0000"/>
<line x1="178.5" y1="296.5" x2="187.5" y2="300.5" stroke="#ff0000"/>
<line x1="187.5" y1="300.5" x2="197.5" y2="307.4" stroke="#ff0000"/>
<line x1="197.5" y1="307.4" x2="207.5" y2="318.3" stroke="#ff0000"/>
<line x1="207.5" y1="318.3" x2="216.5" y2="322.5" stroke="#ff0000"/>
<line x1="216.5" y1="322.5" x2="226.5" y2="317.7" stroke="#0000ff"/>
<line x1="226.5" y1="317.7" x2="236.5" y2="314.4" stroke="#0000ff"/>
<line x1="236.5" y1="314.4" x2="245.5" y2="310.9" stroke="#0000ff"/>
<line x1="245.5" y1="310.9" x2="255.5" y2="305.0" stroke="#0000ff"/>
<line x1="255.5" y1="305.0" x2="264.5" y2="298.5" stroke="#0000ff"/>
<line x1="264.5" y1="298.5" x2="274.5" y2="294.7" stroke="#0000ff"/>
<line x1="274.5" y1="294.7" x2="284.5" y2="293.7" stroke="#0000ff"/>
<line x1="284.5" y1="293.7" x2="293.5" y2="294.6" stroke="#ff0000"/>
<line x1="293.5" y1="294.6" x2="303.5" y2="290.9" stroke="#0000ff"/>
<line x1="303.5" y1="290.9" x2="312.5" y2="288.8" stroke="#0000ff"/>
<line x1="312.5" y1="288.8" x2="322.5" y2="284.7" stroke="#0000ff"/>
<line x1="322.5" y1="284.7" x2="332.5" y2="283.8" stroke="#0000ff"/>
<line x1="332.5" y1="283.8" x2="341.5" y2="245.6" stroke="#0000ff"/>
<line x1="341.5" y1="245.6" x2="351.5" y2="206.3" stroke="#0000ff"/>
<line x1="351.5" y1="206.3" x2="361.5" y2="167.1" stroke="#0000ff"/>
<line x1="361.5" y1="167.1" x2="370.5" y2="133.1" stroke="#0000ff"/>
<line x1="370.5" y1="133.1" x2="380.5" y2="112.7" stroke="#0000ff"/>
<line x1="380.5" y1="112.7" x2="389.5" y2="104.9" stroke="#0000ff"/>
<line x1="389.5" y1="104.9" x2="399.5" y2="98.9" stroke="#0000ff"/>
<line x1="399.5" y1="98.9" x2="409.5" y2="99.5" stroke="#ff0000"/>
<line x1="409.5" y1="99.5" x2="418.5" y2="99.7" stroke="#ff0000"/>
<line x1="418.5" y1="99.7" x2="428.5" y2="100.7" stroke="#ff0000"/>
<line x1="428.5" y1="100.7" x2="437.5" y2="109.0" stroke="#ff0000"/>
<line x1="437.5" y1="109.0" x2="447.5" y2="116.1" stroke="#ff0000"/>
<line x1="447.5" y1="116.1" x2="457.5" y2="122.4" stroke="#ff0000"/>
<line x1="457.5" y1="122.4" x2="466.5" y2="129.4" stroke="#ff0000"/>
<line x1="466.5" y1="129.4" x2="476.5" y2="132.9" stroke="#ff0000"/>
<line x1="476.5" y1="132.9" x2="486.5" y2="138.7" stroke="#ff0000"/>
<line x1="486.5" y1="138.7" x2="495.5" y2="147.2" stroke="#ff0000"/>
<line x1="495.5" y1="147.2" x2="505.5" y2="155.4" stroke="#ff0000"/>
<line x1="505.5" y1="155.4" x2="514.5" y2="165.7" stroke="#ff0000"/>
<line x1="514.5" y1="165.7" x2="524.5" y2="173.8" stroke="#ff0000"/>
<line x1="524.5" y1="173.8" x2="534.5" y2="175.2" stroke="#ff0000"/>
<line x1="534.5" y1="175.2" x2="543.5" y2="178.7" stroke="#ff0000"/>
<line x1="543.5" y1="178.7" x2="553.5" y2="186.2" stroke="#ff0000"/>
<line x1="553.5" y1="186.2" x2="562.5" y2="189.5" stroke="#ff0000"/>
<line x1="562.5" y1="189.5" x2="572.5" y2="187.5" stroke="#0000ff"/>
<line x1="572.5" y1="187.5" x2="582.5" y2="185.5" stroke="#0000ff"/>
<line x1="582.5" y1="185.5" x2="591.5" y2="189.1" stroke="#ff0000"/>
<line x1="591.5" y1="189.1" x2="601.5" y2="190.4" stroke="#ff0000"/>
<line x1="601.5" y1="190.4" x2="611.5" y2="187.4" stroke="#0000ff" stroke-linecap="butt"/>
<line x1="5.5" y1="348.0" x2="14.5" y2="339.4" stroke="#0000ff"/>
<line x1="14.5" y1="339.4" x2="24.5" y2="331.3" stroke="#0000ff"/>
<line x1="24.5" y1="331.3" x2="34.5" y2="320.2" stroke="#0000ff"/>
<line x1="34.5" y1="320.2" x2="43.5" y2="314.7" stroke="#0000ff"/>
<line x1="43.5" y1="314.7" x2="53.5" y2="309.5" stroke="#0000ff"/>
<line x1="53.5" y1="309.5" x2="62.5" y2="312.2" stroke="#ff0000"/>
<line x1="62.5" y1="312.2" x2="72.5" y2="321.9" stroke="#ff0000"/>
<line x1="72.5" y1="321.9" x2="82.5" y2="332.5" stroke="#ff0000"/>
<line x1="82.5" y1="332.5" x2="91.5" y2="329.4" stroke="#0000ff"/>
<line x1="91.5" y1="329.4" x2="101.5" y2="320.0" stroke="#0000ff"/>
<line x1="101.5" y1="320.0" x2="111.5" y2="306.7" stroke="#0000ff"/>
<line x1="111.5" y1="306.7" x2="120.5" y2="304.0" stroke="#0000ff"/>
<line x1="120.5" y1="304.0" x2="130.5" y2="301.6" stroke="#0000ff"/>
<line x1="130.5" y1="301.6" x2="139.5" y2="302.4" stroke="#ff0000"/>
<line x1="139.5" y1="302.4" x2="149.5" y2="291.8" stroke="#0000ff"/>
<line x1="149.5" y1="291.8" x2="159.5" y2="283.5" stroke="#0000ff"/>
<line x1="159.5" y1="283.5" x2="168.5" y2="280.3" stroke="#0000ff"/>
<line x1="168.5" y1="280.3" x2="178.5" y2="291.5" stroke="#ff0000"/>
<line x1="178.5" y1="291.5" x2="187.5" y2="304.4" stroke="#ff0000"/>
<line x1="187.5" y1="304.4" x2="197.5" y2="316.1" stroke="#ff0000"/>
<line x1="197.5" y1="316.1" x2="207.5" y2="330.9" stroke="#ff0000"/>
<line x1="207.5" y1="330.9" x2="216.5" y2="338.5" stroke="#ff0000"/>
<line x1="216.5" y1="338.5" x2="226.5" y2="330.0" stroke="#0000ff"/>
<line x1="226.5" y1="330.0" x2="236.5" y2="314.4" stroke="#0000ff"/>
<line x1="236.5" y1="314.4" x2="245.5" y2="302.9" stroke="#0000ff"/>
<line x1="245.5" y1="302.9" x2="255.5" y2="297.5" stroke="#0000ff"/>
<line x1="255.5" y1="297.5" x2="264.5" y2="289.1" stroke="#0000ff"/>
<line x1="264.5" y1="289.1" x2="274.5" y2="283.5" stroke="#0000ff"/>
<line x1="274.5" y1="283.5" x2="284.5" y2="284.6" stroke="#ff0000"/>
<line x1="284.5" y1="284.6" x2="293.5" y2="290.4" stroke="#ff0000"/>
<line x1="293.5" y1="290.4" x2="303.5" y2="289.2" stroke="#0000ff"/>
<line x1="303.5" y1="289.2" x2="312.5" y2="286.5" stroke="#0000ff"/>
<line x1="312.5" y1="286.5" x2="322.5" y2="278.4" stroke="#0000ff"/>
<line x1="322.5" y1="278.4" x2="332.5" y2="278.7" stroke="#ff0000"/>
<line x1="332.5" y1="278.7" x2="341.5" y2="228.9" stroke="#0000ff"/>
<line x1="341.5" y1="228.9" x2="351.5" y2="170.0" stroke="#0000ff"/>
<line x1="351.5" y1="170.0" x2="361.5" y2="99.7" stroke="#0000ff"/>
<line x1="361.5" y1="99.7" x2="370.5" y2="66.1" stroke="#0000ff"/>
<line x1="370.5" y1="66.1" x2="380.5" y2="51.4" stroke="#0000ff"/>
<line x1="380.5" y1="51.4" x2="389.5" y2="58.5" stroke="#ff0000"/>
<line x1="389.5" y1="58.5" x2="399.5" y2="72.5" stroke="#ff0000"/>
<line x1="399.5" y1="72.5" x2="409.5" y2="88.1" stroke="#ff0000"/>
<line x1="409.5" y1="88.1" x2="418.5" y2="94.3" stroke="#ff0000"/>
<line x1="418.5" y1="94.3" x2="428.5" y2="101.7" stroke="#ff0000"/>
<line x1="428.5" y1="101.7" x2="437.5" y2="112.7" stroke="#ff0000"/>
<line x1="437.5" y1="112.7" x2="447.5" y2="125.1" stroke="#ff0000"/>
<line x1="447.5" y1="125.1" x2="457.5" y2="138.0" stroke="#ff0000"/>
<line x1="457.5" y1="138.0" x2="466.5" y2="143.3" stroke="#ff0000"/>
<line x1="466.5" y1="143.3" x2="476.5" y2="145.3" stroke="#ff0000"/>
<line x1="476.5" y1="145.3" x2="486.5" y2="150.2" stroke="#ff0000"/>
<line x1="486.5" y1="150.2" x2="495.5" y2="157.7" stroke="#ff0000"/>
<line x1="495.5" y1="157.7" x2="505.5" y2="170.0" stroke="#ff0000"/>
<line x1="505.5" y1="170.0" x2="514.5" y2="183.7" stroke="#ff0000"/>
<line x1="514.5" y1="183.7" x2="524.5" y2="192.1" stroke="#ff0000"/>
<line x1="524.5" y1="192.1" x2="534.5" y2="191.8" stroke="#0000ff"/>
<line x1="534.5" y1="191.8" x2="543.5" y2="189.1" stroke="#0000ff"/>
<line x1="543.5" y1="189.1" x2="553.5" y2="192.6" stroke="#ff0000"/>
<line x1="553.5" y1="192.6" x2="562.5" y2="199.2" stroke="#ff0000"/>
<line x1="562.5" y1="199.2" x2="572.5" y2="196.6" stroke="#0000ff"/>
<line x1="572.5" y1="196.6" x2="582.5" y2="186.8" stroke="#0000ff"/>
<line x1="582.5" y1="186.8" x2="591.5" y2="187.0" stroke="#ff0000"/>
<line x1="591.5" y1="187.0" x2="601.5" y2="191.2" stroke="#ff0000"/>
<line x1="601.5" y1="191.2" x2="611.5" y2="190.8" stroke="#0000ff" stroke-linecap="butt"/>
</g>
<g shape-rendering="crispEdges"><rect x="631.5" y="178.5" width="40" height="14" fill="#aaf5aa" stroke="#000" stroke-width="1"/></g>
<text x="638.6" y="189" font-size="11.2" fill="#000" textLength="30.5" lengthAdjust="spacingAndGlyphs">19.98</text>
<text x="598" y="541.6" font-size="11" fill="#000" textLength="81" lengthAdjust="spacingAndGlyphs">© 12Stocks.com</text>
</svg>
</body></html>
